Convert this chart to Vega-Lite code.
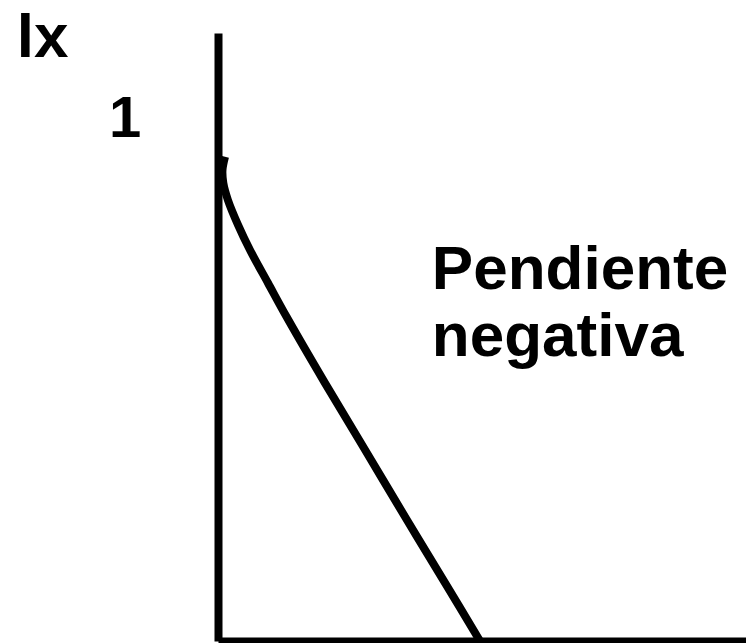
{
  "$schema": "https://vega.github.io/schema/vega-lite/v6.json",
  "width": 528,
  "height": 608,
  "autosize": "none",
  "padding": {"left": 218, "top": 33, "right": 0, "bottom": 2},
  "background": "white",
  "config": {"view": {"stroke": null}},
  "datasets": {
    "curve": [
      {"i": 0, "x": 1.33, "y": 0.924},
      {"i": 1, "x": 0.85, "y": 0.899},
      {"i": 2, "x": 1.0, "y": 0.874},
      {"i": 3, "x": 1.89, "y": 0.841},
      {"i": 4, "x": 3.79, "y": 0.794},
      {"i": 5, "x": 6.06, "y": 0.746},
      {"i": 6, "x": 9.47, "y": 0.683},
      {"i": 7, "x": 13.01, "y": 0.618},
      {"i": 8, "x": 20.27, "y": 0.492},
      {"i": 9, "x": 27.84, "y": 0.365},
      {"i": 10, "x": 35.42, "y": 0.237},
      {"i": 11, "x": 43.0, "y": 0.111},
      {"i": 12, "x": 49.62, "y": 0.0}
    ],
    "labels": [
      {"x": -38.1, "y": 1.115, "label": "lx"}
    ],
    "ones": [
      {"x": -17.6, "y": 0.962, "label": "1"}
    ],
    "notes": [
      {"x": 40.5, "y": 0.672, "label": "Pendiente"},
      {"x": 40.5, "y": 0.544, "label": "negativa"}
    ]
  },
  "layer": [
    {
      "data": {"name": "curve"},
      "mark": {"type": "line", "color": "black", "strokeWidth": 8, "interpolate": "catmull-rom"},
      "encoding": {
        "x": {"field": "x", "type": "quantitative", "scale": {"domain": [0, 100], "nice": false},
          "axis": {"domain": true, "domainColor": "black", "domainWidth": 8, "ticks": false, "labels": false, "grid": false, "title": null}},
        "y": {"field": "y", "type": "quantitative", "scale": {"domain": [0, 1.16], "nice": false},
          "axis": {"domain": true, "domainColor": "black", "domainWidth": 8, "ticks": false, "labels": false, "grid": false, "title": null}},
        "order": {"field": "i", "type": "quantitative"}
      }
    },
    {
      "data": {"name": "labels"},
      "mark": {"type": "text", "font": "Liberation Sans", "fontWeight": "bold", "fontSize": 62, "align": "left", "baseline": "alphabetic", "color": "black"},
      "encoding": {
        "x": {"field": "x", "type": "quantitative"},
        "y": {"field": "y", "type": "quantitative"},
        "text": {"field": "label"}
      }
    },
    {
      "data": {"name": "ones"},
      "mark": {"type": "text", "font": "Liberation Sans", "fontWeight": "bold", "fontSize": 58, "align": "center", "baseline": "alphabetic", "color": "black"},
      "encoding": {
        "x": {"field": "x", "type": "quantitative"},
        "y": {"field": "y", "type": "quantitative"},
        "text": {"field": "label"}
      }
    },
    {
      "data": {"name": "notes"},
      "mark": {"type": "text", "font": "Liberation Sans", "fontWeight": "bold", "fontSize": 62, "align": "left", "baseline": "alphabetic", "color": "black"},
      "encoding": {
        "x": {"field": "x", "type": "quantitative"},
        "y": {"field": "y", "type": "quantitative"},
        "text": {"field": "label"}
      }
    }
  ]
}
